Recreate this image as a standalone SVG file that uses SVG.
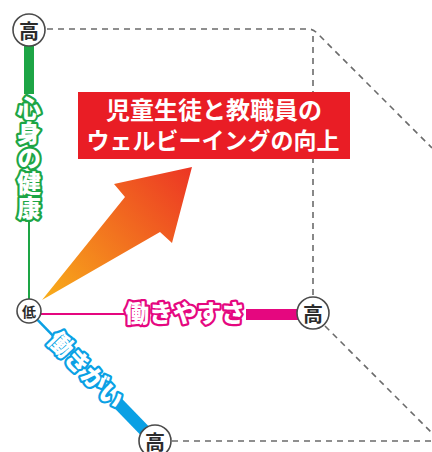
<svg xmlns="http://www.w3.org/2000/svg" width="432" height="452" viewBox="0 0 432 452">
<defs>
<linearGradient id="ag" x1="42" y1="300" x2="192" y2="167" gradientUnits="userSpaceOnUse">
<stop offset="0" stop-color="#F8AE1A"/>
<stop offset="1" stop-color="#EC3524"/>
</linearGradient>
<style>
.dash{fill:none;stroke:#6b6b6b;stroke-width:1.6;stroke-dasharray:6 5}
.node circle{fill:#fff;stroke:#4a4a4a;stroke-width:1.6}
.node text{font-family:"Noto Sans CJK JP",sans-serif;font-weight:700;fill:#2b2b2b;text-anchor:middle;dominant-baseline:central}
.lab{font-family:"Noto Sans CJK JP",sans-serif;font-weight:900;font-size:24px;fill:#fff;stroke-width:4.5;stroke-linejoin:round;paint-order:stroke}
.title{font-family:"Noto Sans CJK JP",sans-serif;font-weight:700;fill:#fff;text-anchor:middle}
</style>
</defs>
<rect width="432" height="452" fill="#fff"/>
<g id="connectors">
<path class="dash" d="M47,29 H308 Q313,29 317,33 L432,148"/>
<path class="dash" d="M313,36 V296"/>
<path class="dash" d="M325,326 L432,433"/>
<path class="dash" d="M172,441 H432"/>
<!-- green axis -->
<line x1="29" y1="46" x2="29" y2="94" stroke="#1DA545" stroke-width="10"/>
<line x1="29" y1="220" x2="29" y2="299" stroke="#1DA545" stroke-width="2"/>
<!-- pink axis -->
<line x1="41" y1="314" x2="126" y2="314" stroke="#E5077F" stroke-width="2"/>
<line x1="246" y1="314.5" x2="298" y2="314.5" stroke="#E5077F" stroke-width="11"/>
<!-- blue axis -->
<g transform="translate(29,311) rotate(46)">
<line x1="12" y1="0" x2="34" y2="0" stroke="#0AA0E4" stroke-width="2.5"/>
<line x1="128" y1="0" x2="166" y2="0" stroke="#0AA0E4" stroke-width="12"/>
</g>
</g>
<g id="label-health">
<text class="lab" x="29" y="96" stroke="#1DA545" style="writing-mode:vertical-rl;text-orientation:upright;letter-spacing:1px">心身の健康</text>
</g>
<g id="label-ease">
<text class="lab" x="125" y="322" stroke="#E5077F">働きやすさ</text>
</g>
<g id="label-worth">
<text class="lab" transform="translate(29,311) rotate(46)" x="34" y="9" stroke="#0AA0E4">働きがい</text>
</g>
<g id="arrow">
<polygon points="42,300 125,197 114,184 192,167 172,243 160,232" fill="url(#ag)"/>
</g>
<g id="goal">
<rect x="78" y="92" width="272" height="67" fill="#E91D25"/>
<text class="title" x="214" y="119" font-size="24">児童生徒と教職員の</text>
<text class="title" x="213" y="149" font-size="23">ウェルビーイングの向上</text>
</g>
<g id="node-top" class="node">
<circle cx="29" cy="30" r="16"/>
<text x="29" y="30" font-size="20">高</text>
</g>
<g id="node-low" class="node">
<circle cx="29" cy="311" r="12"/>
<text x="29" y="311" font-size="14">低</text>
</g>
<g id="node-right" class="node">
<circle cx="313" cy="313" r="16"/>
<text x="313" y="313" font-size="20">高</text>
</g>
<g id="node-bottom" class="node">
<circle cx="155" cy="441" r="16"/>
<text x="155" y="441" font-size="20">高</text>
</g>
</svg>
